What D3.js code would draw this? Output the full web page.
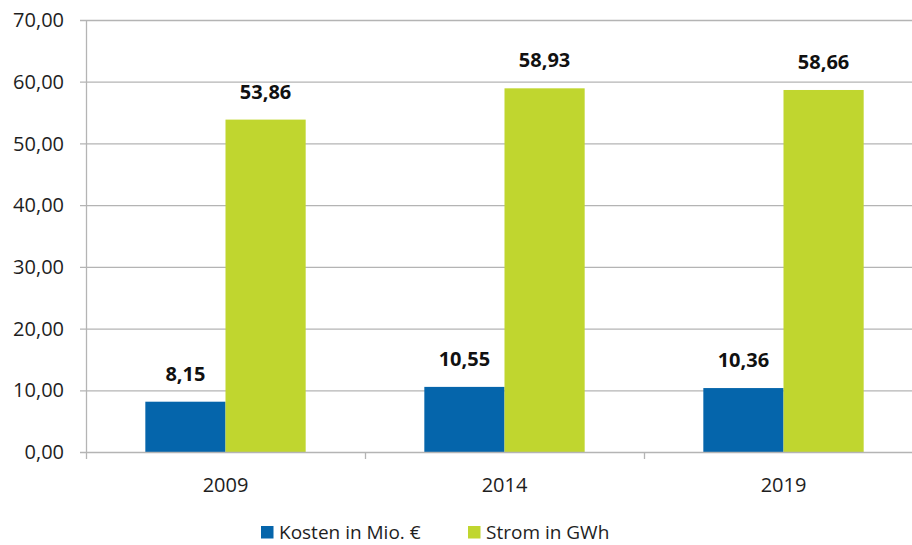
<!DOCTYPE html>
<html>
<head>
<meta charset="utf-8">
<script src="https://cdn.jsdelivr.net/npm/d3@7"></script>
<style>
    body { margin: 0; background: #fff; }
    svg text { font-family: 'Open Sans', sans-serif; }
</style>
</head>
<body>
<svg width="912" height="545"></svg>
<script>
    var years = ["2009", "2014", "2019"];
    var seriesNames = ["Kosten in Mio. €", "Strom in GWh"];
    var kosten = [8.15, 10.55, 10.36];
    var strom = [53.86, 58.93, 58.66];
    var yTicks = [0, 10, 20, 30, 40, 50, 60, 70];
    var colors = ["#0565ab", "#c0d62f"];

    var svg = d3.select("svg"),
        margin = { top: 20, right: -11, bottom: 93, left: 86 },
        width = 912 - margin.left - margin.right,
        height = 545 - margin.top - margin.bottom,
        g = svg.append("g").attr("transform", "translate(" + margin.left + "," + margin.top + ")");

    var fmt = function (v) { return d3.format(".2f")(v).replace(".", ","); };

    var data = years.map(function (y, i) {
        return { year: y, values: [kosten[i], strom[i]] };
    });

    var x0 = d3.scaleBand().domain(years).range([0, width]).paddingInner(0).paddingOuter(0);
    var x1 = d3.scaleBand().domain(seriesNames).range([0, x0.bandwidth()]).paddingInner(0).paddingOuter(0.74);
    var y = d3.scaleLinear().domain([0, 70]).range([height, 0]);

    // gridlines
    g.append("g")
        .selectAll("line")
        .data(yTicks.slice(1))
        .enter().append("line")
        .attr("x1", -6)
        .attr("x2", 912)
        .attr("y1", function (d) { return y(d) + 0.5; })
        .attr("y2", function (d) { return y(d) + 0.5; })
        .attr("stroke", "#b4b4b4")
        .attr("stroke-width", 1.3);

    // y labels
    g.append("g")
        .selectAll("text")
        .data(yTicks)
        .enter().append("text")
        .attr("x", -22)
        .attr("y", function (d) { return y(d); })
        .attr("dy", "0.36em")
        .attr("text-anchor", "end")
        .attr("font-size", 20)
        .attr("fill", "#1e1e1e")
        .text(fmt);

    // bars
    var groups = g.append("g")
        .selectAll("g")
        .data(data)
        .enter().append("g")
        .attr("transform", function (d) { return "translate(" + x0(d.year) + ",0)"; });

    var cells = groups.selectAll("g")
        .data(function (d) { return d.values.map(function (v, i) { return { key: seriesNames[i], value: v, i: i }; }); })
        .enter().append("g");

    cells.append("rect")
        .attr("x", function (d) { return x1(d.key); })
        .attr("y", function (d) { return y(d.value); })
        .attr("width", x1.bandwidth())
        .attr("height", function (d) { return height - y(d.value); })
        .attr("fill", function (d) { return colors[d.i]; });

    cells.append("text")
        .attr("x", function (d) { return x1(d.key) + x1.bandwidth() / 2; })
        .attr("y", function (d) { return y(d.value) - 21; })
        .attr("text-anchor", "middle")
        .attr("font-size", 20)
        .attr("font-weight", "bold")
        .attr("fill", "#111")
        .text(function (d) { return fmt(d.value); });

    // y axis line
    g.append("line")
        .attr("x1", 0.5).attr("x2", 0.5)
        .attr("y1", 0).attr("y2", height + 7)
        .attr("stroke", "#b4b4b4")
        .attr("stroke-width", 1.3);

    // x axis line
    g.append("line")
        .attr("x1", -6).attr("x2", 912)
        .attr("y1", height + 0.5).attr("y2", height + 0.5)
        .attr("stroke", "#b4b4b4")
        .attr("stroke-width", 1.3);

    // x ticks at band boundaries
    g.append("g")
        .selectAll("line")
        .data(years)
        .enter().append("line")
        .attr("x1", function (d) { return x0(d) + x0.bandwidth() + 0.5; })
        .attr("x2", function (d) { return x0(d) + x0.bandwidth() + 0.5; })
        .attr("y1", height)
        .attr("y2", height + 7)
        .attr("stroke", "#b4b4b4")
        .attr("stroke-width", 1.3);

    // x labels
    g.append("g")
        .selectAll("text")
        .data(years)
        .enter().append("text")
        .attr("x", function (d) { return x0(d) + x0.bandwidth() / 2; })
        .attr("y", height + 40)
        .attr("text-anchor", "middle")
        .attr("font-size", 20)
        .attr("fill", "#1e1e1e")
        .text(function (d) { return d; });

    // legend
    var legendX = [261, 468];
    var legend = svg.append("g")
        .selectAll("g")
        .data(seriesNames)
        .enter().append("g")
        .attr("transform", function (d, i) { return "translate(" + legendX[i] + ",526)"; });

    legend.append("rect")
        .attr("width", 12.5)
        .attr("height", 12.5)
        .attr("fill", function (d, i) { return colors[i]; });

    legend.append("text")
        .attr("x", 18)
        .attr("y", 13)
        .attr("font-size", 19)
        .attr("fill", "#1e1e1e")
        .text(function (d) { return d; });
</script>
</body>
</html>
